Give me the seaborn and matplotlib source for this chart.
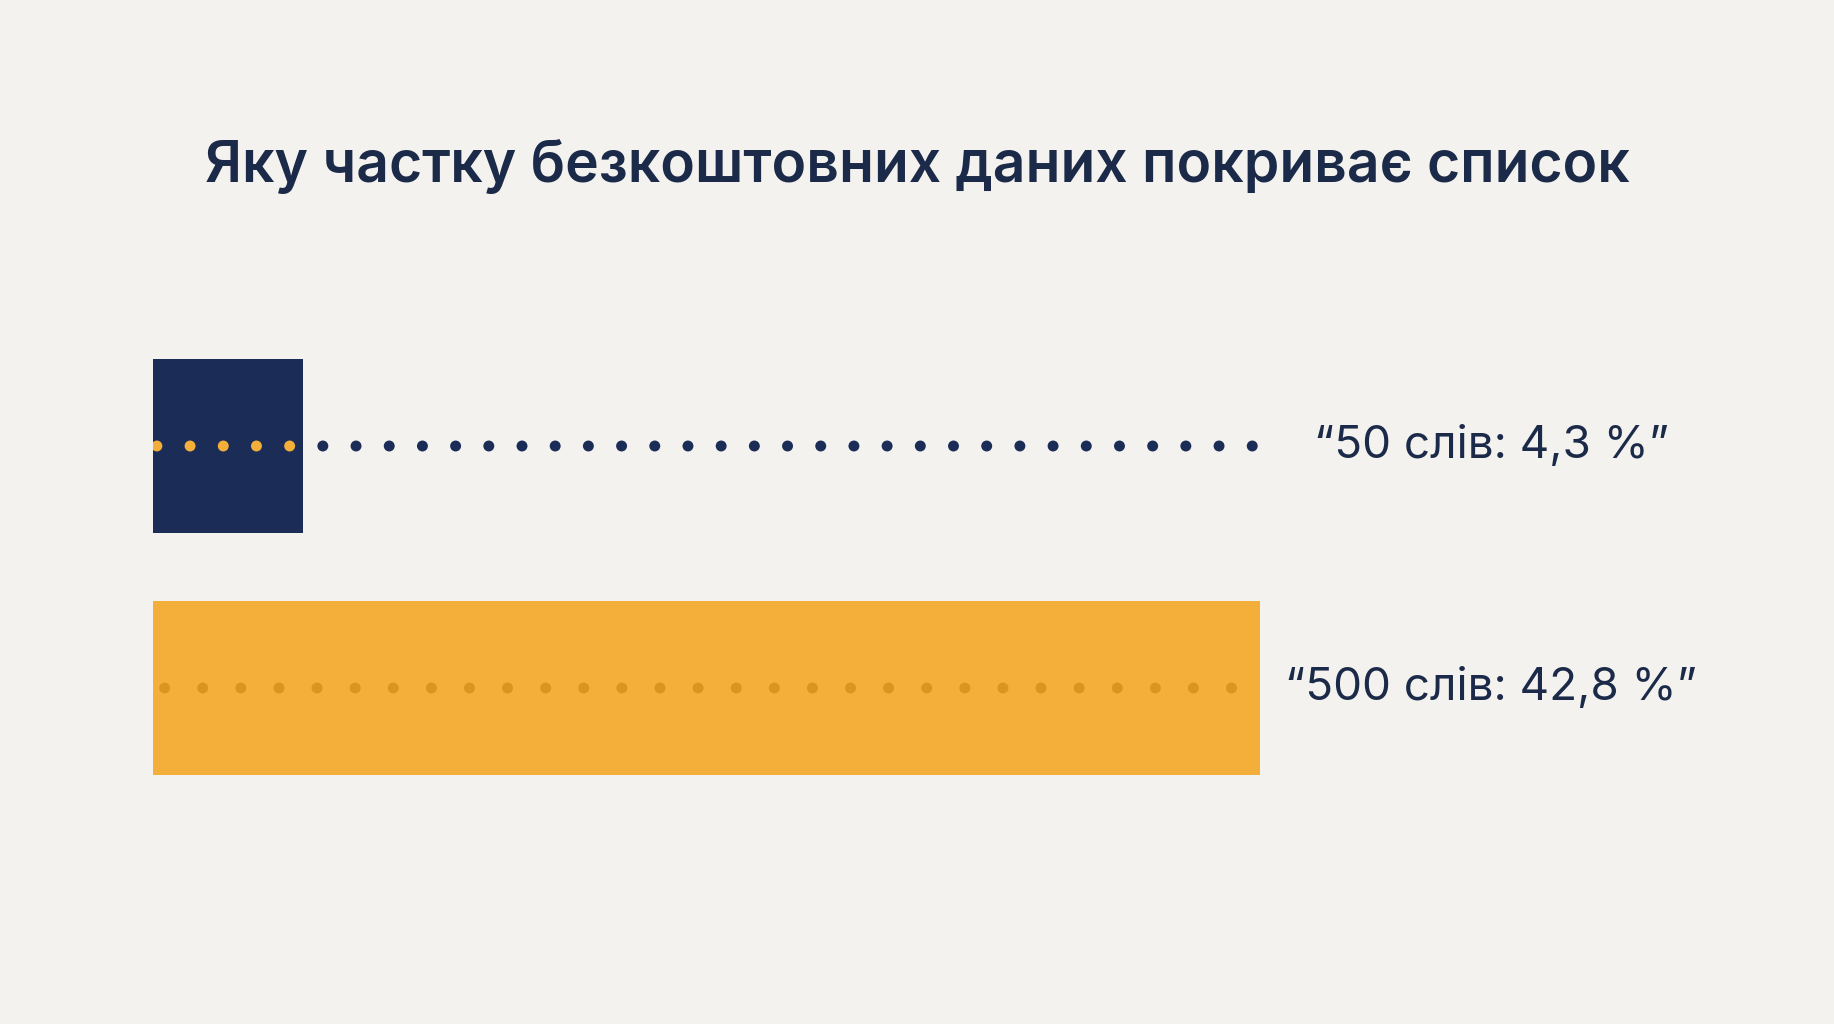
import numpy as np
import pandas as pd
import matplotlib
matplotlib.use("Agg")
import matplotlib.pyplot as plt
import seaborn as sns

# ---- data ----
categories = ["50 слів", "500 слів"]
shares = [4.3, 42.8]                 # values printed in the labels (%)
bar_lengths = [5.8, 42.8]            # bar extents as drawn in the reference
labels = ["“50 слів: 4,3 %”", "“500 слів: 42,8 %”"]
title = "Яку частку безкоштовних даних покриває список"
dot_counts = [34, 29]

BG = "#F4F2EE"
NAVY = "#1B2D57"
ORANGE = "#F4AE3A"
DARK_ORANGE = "#D9951F"
TEXT = "#1B2A48"

sns.set_theme(style="white")
plt.rcParams["font.family"] = ["Inter", "Noto Sans", "DejaVu Sans"]

W, H = 1834, 1024
fig = plt.figure(figsize=(W / 100, H / 100), dpi=100, facecolor=BG)

# axes placement (pixels)
x0_px = 153
px_per_unit = (1260 - 153) / 42.8
xmax = 50
ax_w_px = xmax * px_per_unit
ax_top_px, ax_bot_px = 325, 809
ax = fig.add_axes([x0_px / W, 1 - ax_bot_px / H, ax_w_px / W, (ax_bot_px - ax_top_px) / H])
ax.set_facecolor(BG)

df = pd.DataFrame({"cat": categories, "len": bar_lengths})
sns.barplot(data=df, x="len", y="cat", hue="cat", palette=[NAVY, ORANGE],
            orient="h", width=0.72, legend=False, ax=ax, saturation=1,
            linewidth=0, edgecolor="none")

ax.set_xlim(0, xmax)
ax.set_ylim(1.5, -0.5)
ax.set_axis_off()

# dotted guide lines
for i, (n, blen) in enumerate(zip(dot_counts, bar_lengths)):
    if i == 0:
        xs = np.linspace(0.15, max(bar_lengths) - 0.3, n)
        cols = [ORANGE if x < blen else NAVY for x in xs]
    else:
        xs = np.linspace(0.45, blen - 1.1, n)
        cols = [DARK_ORANGE] * n
    ax.scatter(xs, [i] * n, s=62, c=cols, linewidths=0, zorder=3)

# labels
label_x = (1491 - x0_px) / px_per_unit
for i, lab in enumerate(labels):
    ax.text(label_x, i, lab, ha="center", va="center", fontsize=33,
            color=TEXT, clip_on=False)

fig.text(0.5, 1 - 166 / H, title, ha="center", va="center", fontsize=41,
         fontweight="semibold", color=TEXT)

fig.savefig("out.png", dpi=100, facecolor=BG)
